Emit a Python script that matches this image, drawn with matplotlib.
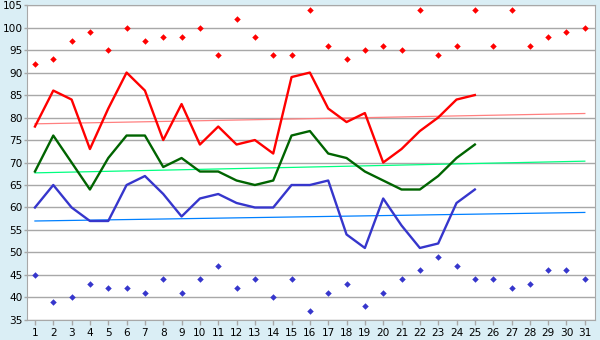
import numpy as np
import matplotlib
matplotlib.use("Agg")
import matplotlib.pyplot as plt

days = list(range(1, 32))

# daily extremes (whole month)
max_pts = [92, 93, 97, 99, 95, 100, 97, 98, 98, 100, 94, 102, 98, 94, 94, 104,
           96, 93, 95, 96, 95, 104, 94, 96, 104, 96, 104, 96, 98, 99, 100]
min_pts = [45, 39, 40, 43, 42, 42, 41, 44, 41, 44, 47, 42, 44, 40, 44, 37,
           41, 43, 38, 41, 44, 46, 49, 47, 44, 44, 42, 43, 46, 46, 44]

# observed lines, days 1-25
high = [78, 86, 84, 73, 82, 90, 86, 75, 83, 74, 78, 74, 75, 72, 89, 90,
        82, 79, 81, 70, 73, 77, 80, 84, 85]
mean = [68, 76, 70, 64, 71, 76, 76, 69, 71, 68, 68, 66, 65, 66, 76, 77,
        72, 71, 68, 66, 64, 64, 67, 71, 74]
low = [60, 65, 60, 57, 57, 65, 67, 63, 58, 62, 63, 61, 60, 60, 65, 65,
       66, 54, 51, 62, 56, 51, 52, 61, 64]

# normals: value on day 1 and day 31
normal_high = [78.6, 80.9]
normal_mean = [67.7, 70.3]
normal_low = [57.0, 58.9]

fig = plt.figure(figsize=(6, 3.4), dpi=100, facecolor="#daeef5")
ax = fig.add_axes([0.0445, 0.059, 0.947, 0.926])
ax.set_facecolor("white")

ax.set_xlim(0.55, 31.55)
ax.set_ylim(35, 105)
ax.set_yticks(range(35, 106, 5))
ax.set_xticks(days)
ax.grid(axis="y", color="#a8a8a8", linewidth=1.0)
ax.set_axisbelow(True)
for s in ax.spines.values():
    s.set_color("#a8a8a8")
ax.tick_params(axis="both", colors="#a8a8a8", labelcolor="black",
               labelsize=7.6, width=1)
ax.tick_params(axis="y", length=2.5, pad=0.5)
ax.tick_params(axis="x", length=3.5, pad=2)

ends = [days[0], days[-1]]
ax.plot(ends, normal_high, color="#ff8080", lw=0.9)
ax.plot(ends, normal_mean, color="#00ff80", lw=0.9)
ax.plot(ends, normal_low, color="#0080ff", lw=0.9)

d25 = days[:len(high)]
ax.plot(d25, high, color="#ff0000", lw=1.7)
ax.plot(d25, mean, color="#006400", lw=1.7)
ax.plot(d25, low, color="#3636cc", lw=1.7)

ax.plot(days, max_pts, "D", color="#ff0000", ms=3.3, mew=0, ls="none")
ax.plot(days, min_pts, "D", color="#3636cc", ms=3.3, mew=0, ls="none")

fig.savefig("out.png", dpi=100, facecolor=fig.get_facecolor())
